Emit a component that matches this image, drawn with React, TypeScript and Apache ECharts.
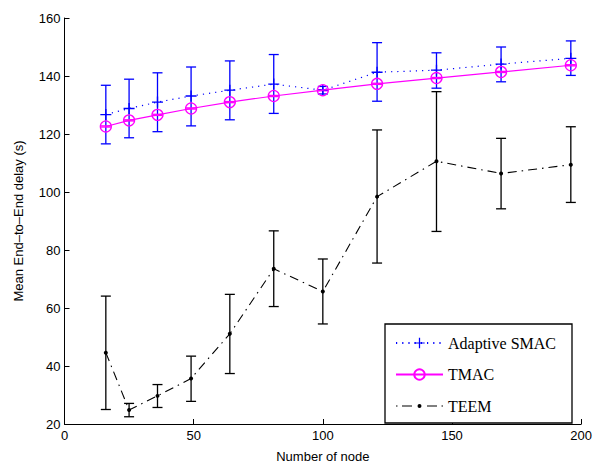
import React, { useEffect, useRef } from "react";
import * as echarts from "echarts";

const xNodes = [16, 25, 36, 49, 64, 81, 100, 121, 144, 169, 196];

const smacMean = [126.7, 128.8, 131.0, 133.1, 135.1, 137.2, 135.1, 141.3, 142.0, 144.1, 146.1];
const smacLow = [116.6, 118.7, 120.8, 122.8, 124.9, 127.1, 133.8, 131.3, 135.8, 138.0, 140.2];
const smacHigh = [136.8, 138.9, 141.1, 143.1, 145.2, 147.4, 136.4, 151.5, 148.0, 150.0, 152.1];

const tmacMean = [122.6, 124.7, 126.6, 128.8, 131.0, 133.1, 135.1, 137.3, 139.3, 141.4, 143.7];
const tmacLow = [122.4, 124.5, 126.4, 128.6, 130.8, 132.9, 134.9, 137.1, 139.1, 141.2, 143.5];
const tmacHigh = [122.8, 124.9, 126.8, 129.0, 131.2, 133.3, 135.3, 137.5, 139.5, 141.6, 143.9];

const teemMean = [44.6, 24.8, 29.7, 35.7, 51.1, 73.5, 65.7, 98.4, 110.6, 106.4, 109.4];
const teemLow = [25.0, 22.5, 25.7, 27.8, 37.4, 60.5, 54.5, 75.5, 86.4, 94.2, 96.4];
const teemHigh = [64.1, 27.1, 33.6, 43.4, 64.7, 86.6, 76.9, 121.4, 134.6, 118.5, 122.5];

const seriesNames = ["Adaptive SMAC", "TMAC", "TEEM"];
const xTitle = "Number of node";
const yTitle = "Mean End\u2013to\u2013End delay (s)";

const BLUE = "#0000ff";
const MAGENTA = "#ff00ff";
const BLACK = "#000000";

const PLUS = "path://M4.4,0H5.6V4.4H10V5.6H5.6V10H4.4V5.6H0V4.4H4.4Z";
// legend glyph for the dash-dot line with a small dot marker (47 x 13 box)
const DASH_DOT_ICON =
  "path://M0,0M47,13" +
  "M0,5.95H1.5V7.05H0Z" +
  "M6,5.95H16V7.05H6Z" +
  "M21.5,6.5a2,2 0 1,0 4,0a2,2 0 1,0 -4,0Z" +
  "M31,5.95H41V7.05H31Z" +
  "M45.5,5.95H47V7.05H45.5Z";

function errorSeries(low: number[], high: number[], color: string, z: number) {
  return {
    type: "custom",
    z,
    silent: true,
    data: xNodes.map((x, i) => [x, low[i], high[i]]),
    encode: { x: 0, y: [1, 2] },
    renderItem: (params: any, api: any) => {
      const x = api.value(0);
      const lo = api.coord([x, api.value(1)]);
      const hi = api.coord([x, api.value(2)]);
      const hw = 5;
      const style = { stroke: color, lineWidth: 1.3, fill: "none" };
      return {
        type: "group",
        children: [
          { type: "line", shape: { x1: lo[0], y1: lo[1], x2: hi[0], y2: hi[1] }, style },
          { type: "line", shape: { x1: lo[0] - hw, y1: lo[1], x2: lo[0] + hw, y2: lo[1] }, style },
          { type: "line", shape: { x1: hi[0] - hw, y1: hi[1], x2: hi[0] + hw, y2: hi[1] }, style },
        ],
      };
    },
  };
}

export default function App() {
  const ref = useRef<HTMLDivElement>(null);
  useEffect(() => {
    if (!ref.current) return;
    const chart = echarts.init(ref.current, undefined, { renderer: "svg" });
    const axisFont = { fontFamily: "Liberation Sans, Arial, sans-serif", fontSize: 13, color: "#000" };
    chart.setOption({
      animation: false,
      backgroundColor: "#ffffff",
      grid: { left: 64.5, right: 11, top: 18, bottom: 43, containLabel: false },
      xAxis: {
        type: "value",
        min: 0,
        max: 200,
        interval: 50,
        name: xTitle,
        nameLocation: "middle",
        nameGap: 26,
        nameTextStyle: axisFont,
        axisLine: { show: true, lineStyle: { color: "#000", width: 1 } },
        axisTick: { show: true, inside: true, length: 5, lineStyle: { color: "#000" } },
        axisLabel: { ...axisFont, margin: 5 },
        splitLine: { show: false },
      },
      yAxis: {
        type: "value",
        min: 20,
        max: 160,
        interval: 20,
        name: yTitle,
        nameLocation: "middle",
        nameRotate: 90,
        nameGap: 40,
        nameTextStyle: axisFont,
        axisLine: { show: true, lineStyle: { color: "#000", width: 1 } },
        axisTick: { show: true, inside: true, length: 5, lineStyle: { color: "#000" } },
        axisLabel: { ...axisFont, margin: 4 },
        splitLine: { show: false },
      },
      legend: {
        show: true,
        data: [
          { name: seriesNames[0] },
          { name: seriesNames[1] },
          { name: seriesNames[2], icon: DASH_DOT_ICON },
        ],
        orient: "vertical",
        left: 385,
        top: 324,
        selectedMode: false,
        backgroundColor: "#ffffff",
        borderColor: "#000",
        borderWidth: 1.3,
        borderRadius: 0,
        padding: [11, 16, 9, 10],
        itemWidth: 47,
        itemHeight: 13,
        itemGap: 15.5,
        textStyle: { fontFamily: "Liberation Serif, Times New Roman, serif", fontSize: 16, color: "#000" },
      },
      series: [
        errorSeries(smacLow, smacHigh, BLUE, 3),
        errorSeries(tmacLow, tmacHigh, MAGENTA, 4),
        errorSeries(teemLow, teemHigh, BLACK, 3),
        {
          name: seriesNames[0],
          type: "line",
          z: 5,
          data: xNodes.map((x, i) => [x, smacMean[i]]),
          symbol: PLUS,
          symbolSize: 11,
          showSymbol: true,
          itemStyle: { color: BLUE },
          lineStyle: { color: BLUE, width: 1.2, type: [1.2, 5] },
        },
        {
          name: seriesNames[1],
          type: "line",
          z: 6,
          data: xNodes.map((x, i) => [x, tmacMean[i]]),
          symbol: "circle",
          symbolSize: 11,
          itemStyle: { color: "rgba(0,0,0,0)", borderColor: MAGENTA, borderWidth: 1.3 },
          lineStyle: { color: MAGENTA, width: 1.2 },
        },
        {
          name: seriesNames[2],
          type: "line",
          z: 5,
          data: xNodes.map((x, i) => [x, teemMean[i]]),
          symbol: "circle",
          symbolSize: 4,
          itemStyle: { color: BLACK },
          lineStyle: { color: BLACK, width: 1.1, type: [9, 5, 1.5, 5] },
        },
      ],
    });
    return () => chart.dispose();
  }, []);
  return (
    <div
      ref={ref}
      style={{ position: "fixed", left: 0, top: 0, width: 595, height: 468, background: "#fff" }}
    />
  );
}
